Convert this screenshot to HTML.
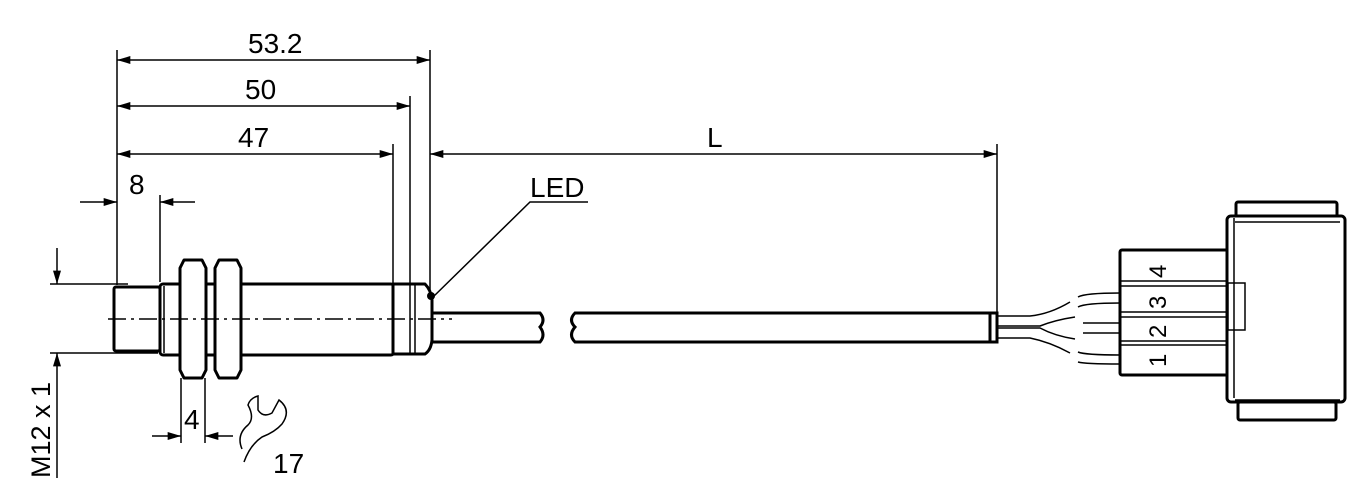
<!DOCTYPE html>
<html><head><style>
html,body{margin:0;padding:0;background:#fff;}
svg{display:block}
text{font-family:"Liberation Sans",sans-serif;fill:#000;}
</style></head><body>
<svg width="1370" height="496" viewBox="0 0 1370 496" xmlns="http://www.w3.org/2000/svg">
<defs>
<marker id="a" viewBox="0 0 10 6" refX="10" refY="3" markerWidth="24" markerHeight="8" markerUnits="userSpaceOnUse" orient="auto-start-reverse"><path d="M0,0 L10,3 L0,6 z" fill="#000"/></marker>
</defs>
<g stroke="#000" stroke-width="1.5" fill="none">
<line x1="117" y1="50" x2="117" y2="285"/>
<line x1="430" y1="50" x2="430" y2="292"/>
<line x1="410" y1="96" x2="410" y2="284"/>
<line x1="393" y1="144" x2="393" y2="284"/>
<line x1="997" y1="144" x2="997" y2="312"/>
<line x1="160" y1="195" x2="160" y2="282"/>
<line x1="50" y1="284" x2="128" y2="284"/>
<line x1="50" y1="353" x2="158" y2="353"/>
<line x1="181" y1="378" x2="181" y2="443"/>
<line x1="205" y1="378" x2="205" y2="443"/>
<line x1="117" y1="60" x2="430" y2="60" marker-start="url(#a)" marker-end="url(#a)"/>
<line x1="117" y1="106" x2="410" y2="106" marker-start="url(#a)" marker-end="url(#a)"/>
<line x1="117" y1="154" x2="393" y2="154" marker-start="url(#a)" marker-end="url(#a)"/>
<line x1="430" y1="154" x2="997" y2="154" marker-start="url(#a)" marker-end="url(#a)"/>
<line x1="80" y1="202" x2="117" y2="202" marker-end="url(#a)"/>
<line x1="195" y1="202" x2="160" y2="202" marker-end="url(#a)"/>
<line x1="57" y1="248" x2="57" y2="284" marker-end="url(#a)"/>
<line x1="57" y1="478" x2="57" y2="353" marker-end="url(#a)"/>
<line x1="152" y1="436" x2="181" y2="436" marker-end="url(#a)"/>
<line x1="233" y1="436" x2="205" y2="436" marker-end="url(#a)"/>
<polyline points="432,298 530,202 588,202"/>
</g>
<g stroke="#000" stroke-width="3" fill="#fff" stroke-linejoin="round">
<rect x="114" y="287" width="46" height="64" rx="2"/>
<rect x="160" y="284" width="234" height="71" rx="3"/>
<path d="M393,284 L425,284 Q431,290 432,300 L432,340 Q431,350 425,354 L393,354 Z"/>
<path d="M184,260 L202,260 L206,268 L206,370 L202,378 L184,378 L180,370 L180,268 Z"/>
<path d="M219,260 L237,260 L241,268 L241,370 L237,378 L219,378 L215,370 L215,268 Z"/>
</g>
<g stroke="#000" stroke-width="1.5" fill="none">
<line x1="164" y1="286" x2="164" y2="353"/>
<line x1="410" y1="284" x2="410" y2="354"/>
<line x1="415" y1="284" x2="415" y2="354"/>
<line x1="108" y1="319" x2="452" y2="319" stroke-dasharray="18,5,3,5"/>
</g>
<circle cx="431" cy="296" r="4" fill="#000"/>
<g stroke="#000" stroke-width="3" fill="none">
<path d="M432,313 L540,313 Q546,320 540,327 Q546,335 540,342 L432,342"/>
<path d="M997,313 L575,313 Q568,320 575,327 Q568,335 575,342 L997,342"/>
<rect x="990" y="313" width="7" height="29" fill="#fff"/>
</g>
<g stroke="#000" stroke-width="1.5" fill="none">
<path d="M997,316 L1030,316 Q1050,314 1070,302"/>
<path d="M1078,297 Q1085,293 1120,293"/>
<path d="M1078,307 Q1085,303 1120,303"/>
<path d="M997,326 L1040,326 Q1055,320 1075,317"/>
<path d="M997,328 L1040,328 Q1055,336 1075,339"/>
<path d="M1083,323 L1120,323"/>
<path d="M1083,333 L1120,333"/>
<path d="M997,338 L1030,338 Q1050,342 1070,353"/>
<path d="M1078,352 Q1085,355 1120,355"/>
<path d="M1078,362 Q1085,364 1120,364"/>
</g>
<g stroke="#000" stroke-width="3" fill="#fff" stroke-linejoin="round">
<rect x="1120" y="250" width="108" height="125" rx="2"/>
<rect x="1238" y="402" width="98" height="18" rx="2"/>
<rect x="1236" y="202" width="101" height="16" rx="2"/>
<rect x="1227" y="216" width="118" height="186" rx="4"/>
</g>
<g stroke="#000" stroke-width="1.5" fill="#fff">
<rect x="1228" y="283" width="17" height="47"/>
<line x1="1121" y1="281" x2="1227" y2="281"/>
<line x1="1121" y1="286" x2="1227" y2="286"/>
<line x1="1121" y1="312" x2="1227" y2="312"/>
<line x1="1121" y1="317" x2="1227" y2="317"/>
<line x1="1121" y1="341" x2="1227" y2="341"/>
<line x1="1121" y1="345" x2="1227" y2="345"/>
<line x1="1235" y1="222" x2="1340" y2="222"/>
<line x1="1235" y1="400" x2="1340" y2="400"/>
<line x1="1234" y1="218" x2="1234" y2="398"/>
</g>
<path d="M242,449 Q236,435 248,425 Q255,418 248,405 Q250,398 258,396 L258,410 Q263,418 272,413 L279,400 Q292,410 282,424 Q275,432 262,437 Q250,445 244,462" stroke="#000" stroke-width="1.5" fill="none"/>
<g font-size="28">
<text x="248" y="53">53.2</text>
<text x="245" y="99">50</text>
<text x="238" y="147">47</text>
<text x="707" y="147">L</text>
<text x="129" y="194">8</text>
<text x="184" y="429">4</text>
<text x="273" y="473">17</text>
<text x="530" y="197">LED</text>
<text transform="translate(50,478) rotate(-90)" font-size="27">M12 x 1</text>
<text transform="translate(1166,278) rotate(-90)" font-size="24">4</text>
<text transform="translate(1166,309) rotate(-90)" font-size="24">3</text>
<text transform="translate(1166,338) rotate(-90)" font-size="24">2</text>
<text transform="translate(1166,367) rotate(-90)" font-size="24">1</text>
</g>
</svg>
</body></html>
